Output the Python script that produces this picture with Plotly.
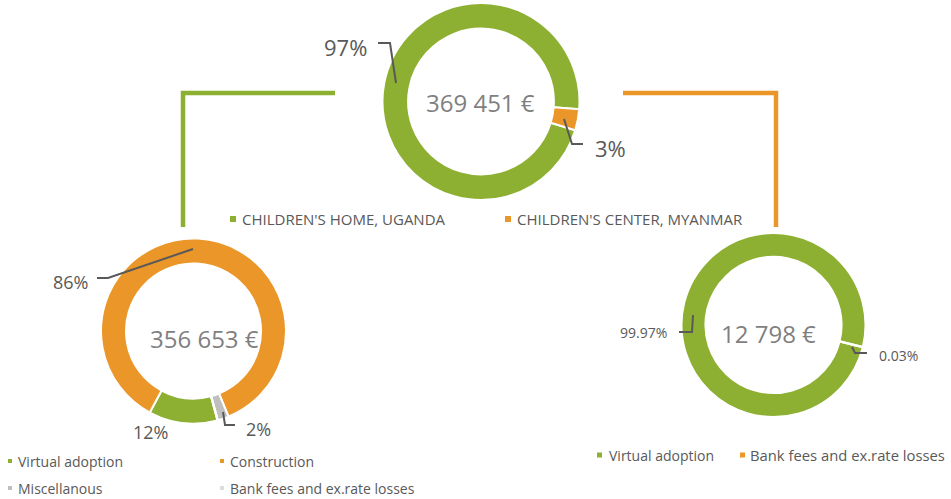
import plotly.graph_objects as go

W, H = 951, 499

# data
top_labels = ["CHILDREN'S HOME, UGANDA", "CHILDREN'S CENTER, MYANMAR"]
top_values = [356653, 12798]

uganda_labels = ["Virtual adoption", "Construction", "Miscellanous", "Bank fees and ex.rate losses"]
uganda_values = [42800, 306700, 6900, 253]

myanmar_labels = ["Virtual adoption", "Bank fees and ex.rate losses"]
myanmar_values = [12794, 4]

GREEN = "#8DB032"
ORANGE = "#EA9628"
GREY = "#BFBFBF"
LGREY = "#DDDDDD"
TXT = "#595959"
BIG = "#7F7F7F"
FONT = "Open Sans"


def px(x):
    return x / W


def py(y):
    return 1 - y / H


def euro(v):
    return f"{v:,}".replace(",", " ") + " €"


def pct(values, digits=0):
    tot = sum(values)
    return [f"{v / tot * 100:.{digits}f}%" for v in values]


def donut(labels, values, colors, x0, x1, y0, y1, rotation, hole):
    return go.Pie(
        labels=labels, values=values, sort=False, direction="clockwise",
        rotation=rotation, hole=hole, textinfo="none", showlegend=False,
        marker=dict(colors=colors, line=dict(color="white", width=2)),
        domain=dict(x=[px(x0), px(x1)], y=[py(y1), py(y0)]),
    )


fig = go.Figure()
fig.add_trace(donut(top_labels, top_values, [GREEN, ORANGE], 382.5, 579.5, 3, 200, 107, 0.74))
fig.add_trace(donut(uganda_labels, uganda_values, [GREEN, ORANGE, GREY, LGREY],
                    101, 286, 238.5, 423.5, 165, 0.73))
fig.add_trace(donut(myanmar_labels, myanmar_values, [GREEN, ORANGE], 681.5, 865.5, 233, 417, 104, 0.74))

annotations = []
shapes = []


def text(x, y, s, size, color=TXT, anchor="center"):
    annotations.append(dict(
        x=px(x), y=py(y), xref="paper", yref="paper", text=s, showarrow=False,
        xanchor=anchor, yanchor="middle", font=dict(family=FONT, size=size, color=color),
    ))


def line(points, color=TXT, width=2):
    path = "M " + " L ".join(f"{px(a)} {py(b)}" for a, b in points)
    shapes.append(dict(type="path", path=path, xref="paper", yref="paper",
                       line=dict(color=color, width=width)))


def legend_item(x, y, color, s, size, sq=6, gap=4):
    shapes.append(dict(type="rect", xref="paper", yref="paper",
                       x0=px(x), x1=px(x + sq), y0=py(y + sq / 2), y1=py(y - sq / 2),
                       fillcolor=color, line=dict(width=0)))
    text(x + sq + gap, y, s, size, anchor="left")


# totals in the centres
text(481, 103, euro(sum(top_values)), 24, BIG)
text(204, 338, euro(sum(uganda_values)), 24, BIG)
text(768, 333, euro(sum(myanmar_values)), 24, BIG)

# percentage labels
tp = pct(top_values)
text(345, 47, tp[0], 22)
text(610, 148, tp[1], 22)
line([(378, 43), (390, 43), (396, 83)])
line([(564, 119), (572, 144), (583, 144)])

up = pct(uganda_values)
text(70, 282, up[1], 18)
text(150, 432, up[0], 18)
text(258, 429, up[2], 18)
line([(97, 278), (108, 278), (193, 249)])
line([(223, 412), (225, 425), (235, 425)])

mp = pct(myanmar_values, 2)
text(643, 332, mp[0], 14)
text(898, 355, mp[1], 14)
line([(679, 332), (692, 332), (693, 315)])
line([(852, 347), (855, 353), (867, 353)])

# connectors
line([(335, 93), (183, 93), (183, 227)], GREEN, 4.5)
line([(623, 93), (776, 93), (776, 227)], ORANGE, 4.5)

# legends
legend_item(230, 219, GREEN, top_labels[0], 15)
legend_item(505, 219, ORANGE, top_labels[1], 15)

legend_item(8, 461, GREEN, uganda_labels[0], 14, sq=4, gap=4)
legend_item(220, 461, ORANGE, uganda_labels[1], 14, sq=4, gap=4)
legend_item(8, 488, GREY, uganda_labels[2], 14, sq=4, gap=4)
legend_item(220, 488, LGREY, uganda_labels[3], 14, sq=4, gap=4)

legend_item(597, 455, GREEN, myanmar_labels[0], 14, sq=5, gap=5)
legend_item(740, 455, ORANGE, myanmar_labels[1], 14.8, sq=5, gap=3)

fig.update_layout(
    width=W, height=H, margin=dict(l=0, r=0, t=0, b=0),
    paper_bgcolor="white", plot_bgcolor="white",
    annotations=annotations, shapes=shapes,
    font=dict(family=FONT, color=TXT),
)

fig.write_html(
    "out.html",
    config={"displayModeBar": False},
    post_script="document.body.style.margin='0';document.body.style.overflow='hidden';",
)
